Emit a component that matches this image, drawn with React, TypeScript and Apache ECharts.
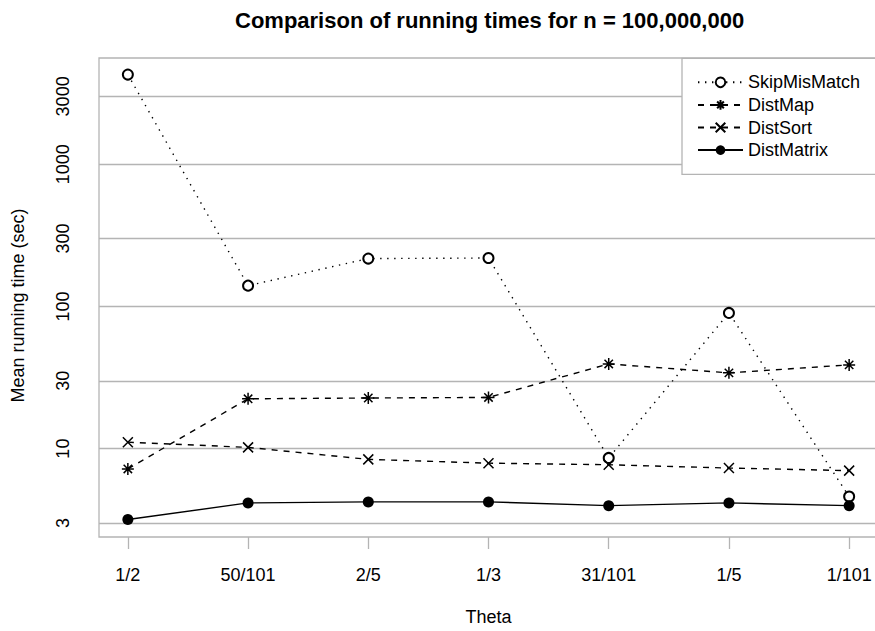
import React, { useEffect, useRef } from "react";
import * as echarts from "echarts";

const categories = ["1/2", "50/101", "2/5", "1/3", "31/101", "1/5", "1/101"];
const skipMisMatch = [4270, 140, 217, 219, 8.6, 90, 4.6];
const distMap = [7.2, 22.4, 22.7, 22.9, 39.4, 34.1, 38.8];
const distSort = [11.1, 10.2, 8.4, 7.9, 7.7, 7.3, 7.0];
const distMatrix = [3.17, 4.15, 4.22, 4.22, 3.97, 4.15, 3.97];
const yTicks = [3, 10, 30, 100, 300, 1000, 3000];
const seriesNames = ["SkipMisMatch", "DistMap", "DistSort", "DistMatrix"];

const FONT = "'Liberation Sans', Arial, Helvetica, sans-serif";
const GREY = "#b4b4b4";

const asterisk = "path://M5,0L5,10M0,5L10,5M1.5,1.5L8.5,8.5M1.5,8.5L8.5,1.5";
const cross = "path://M0,0L10,10M0,10L10,0";

function pts(values: number[]) {
  return values.map((v, i) => [i + 1, v]);
}

export default function App() {
  const ref = useRef<HTMLDivElement>(null);
  useEffect(() => {
    if (!ref.current) return;
    const chart = echarts.init(ref.current, null, { renderer: "svg" });
    const xTickVals = categories.map((_, i) => i + 1);
    chart.setOption({
      animation: false,
      backgroundColor: "#ffffff",
      title: {
        text: "Comparison of running times for n = 100,000,000",
        left: 230,
        top: 4,
        textStyle: { fontFamily: FONT, fontSize: 22, fontWeight: "bold", color: "#000" },
      },
      grid: {
        left: 99,
        width: 779,
        top: 58,
        bottom: 94,
        show: true,
        borderColor: GREY,
        borderWidth: 1.3,
        containLabel: false,
        outerBoundsMode: "none",
      },
      graphic: [
        {
          type: "rect",
          z: 3,
          shape: { x: 682, y: 58.3, width: 240, height: 116 },
          style: { fill: "#ffffff", stroke: GREY, lineWidth: 1.3 },
        },
      ],
      legend: {
        orient: "vertical",
        left: 682,
        top: 58,
        padding: [13, 10, 12, 15],
        itemGap: 0,
        itemWidth: 45,
        itemHeight: 12,
        z: 10,
        data: seriesNames,
        textStyle: { fontFamily: FONT, fontSize: 18, color: "#000", lineHeight: 22.6, height: 22.6 },
      },
      xAxis: {
        type: "value",
        min: 0.76,
        max: 7.24,
        name: "Theta",
        nameLocation: "middle",
        nameGap: 71,
        nameTextStyle: { fontFamily: FONT, fontSize: 18, color: "#000" },
        axisLine: { show: false },
        splitLine: { show: false },
        axisTick: {
          show: true,
          customValues: xTickVals,
          length: 12,
          lineStyle: { color: GREY, width: 1.3 },
        },
        axisLabel: {
          customValues: xTickVals,
          formatter: (v: number) => categories[Math.round(v) - 1] ?? "",
          margin: 29,
          fontFamily: FONT,
          fontSize: 18,
          color: "#000",
        },
      },
      yAxis: {
        type: "log",
        logBase: 10,
        min: 2.39,
        max: 5585,
        name: "Mean running time (sec)",
        nameLocation: "middle",
        nameGap: 72,
        nameTextStyle: { fontFamily: FONT, fontSize: 18, color: "#000", padding: [0, 16, 0, 0] },
        axisLine: { show: false },
        axisTick: { show: false, customValues: yTicks },
        splitLine: { show: true, lineStyle: { color: GREY, width: 1.3 } },
        axisLabel: {
          customValues: yTicks,
          formatter: (v: number) => String(Math.round(v)),
          rotate: 90,
          margin: 27,
          fontFamily: FONT,
          fontSize: 18,
          color: "#000",
        },
      },
      series: [
        {
          name: seriesNames[0],
          type: "line",
          data: pts(skipMisMatch),
          symbol: "emptyCircle",
          symbolSize: 10,
          lineStyle: { color: "#000", width: 1.4, type: [1.4, 5.6] },
          itemStyle: { color: "#000", borderColor: "#000", borderWidth: 1.6 },
          z: 2,
        },
        {
          name: seriesNames[1],
          type: "line",
          data: pts(distMap),
          symbol: asterisk,
          symbolSize: 12,
          lineStyle: { color: "#000", width: 1.4, type: [6, 6] },
          itemStyle: { color: "#000", borderColor: "#000", borderWidth: 1.5 },
          z: 3,
        },
        {
          name: seriesNames[2],
          type: "line",
          data: pts(distSort),
          symbol: cross,
          symbolSize: 10,
          lineStyle: { color: "#000", width: 1.4, type: [6, 6] },
          itemStyle: { color: "#000", borderColor: "#000", borderWidth: 1.5 },
          z: 4,
        },
        {
          name: seriesNames[3],
          type: "line",
          data: pts(distMatrix),
          symbol: "circle",
          symbolSize: 11,
          lineStyle: { color: "#000", width: 1.4, type: "solid" },
          itemStyle: { color: "#000" },
          z: 5,
        },
      ],
    });
    return () => chart.dispose();
  }, []);
  return (
    <div
      ref={ref}
      style={{ position: "fixed", left: 0, top: 0, width: 875, height: 631 }}
    />
  );
}
